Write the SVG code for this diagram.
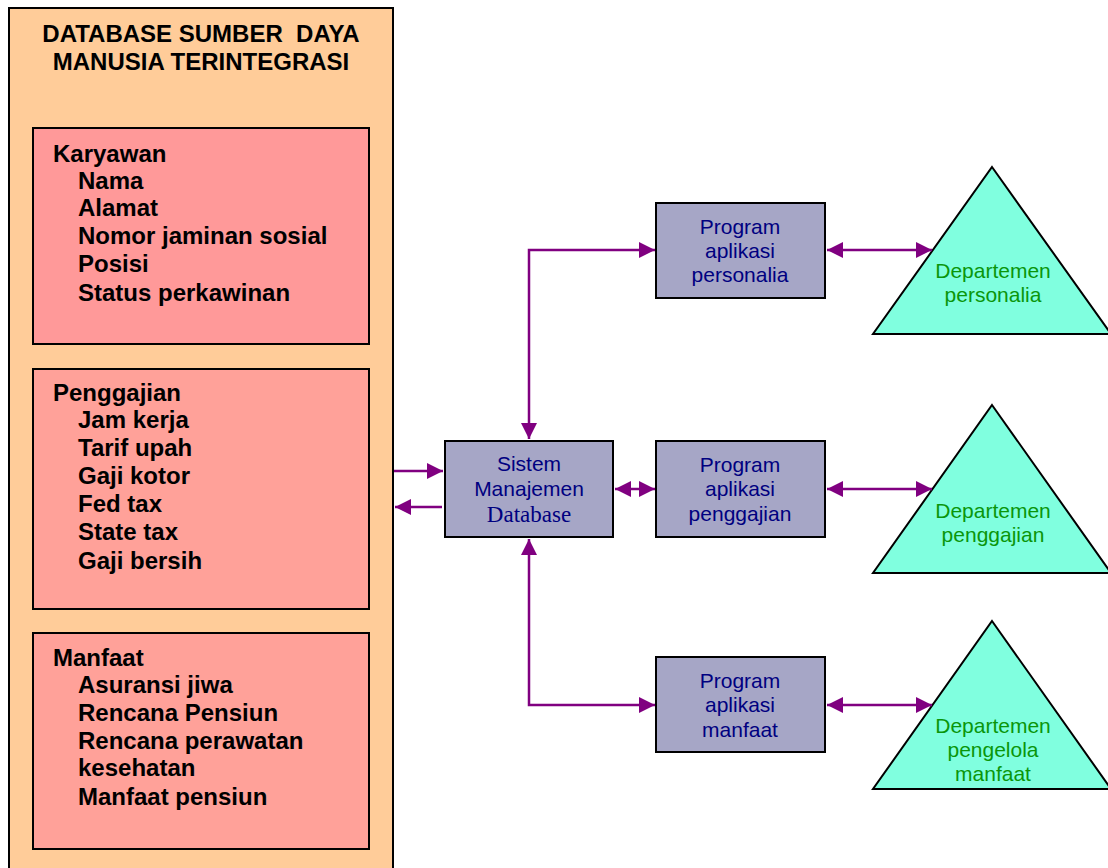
<svg xmlns="http://www.w3.org/2000/svg" width="1108" height="868" viewBox="0 0 1108 868">
  <style>
    .bg { fill: #ffffff; }
    .outer { fill: #FFCC99; stroke: #000; stroke-width: 2; }
    .tbl1 { fill: #FF9999; stroke: #000; stroke-width: 2; }
    .tbl { fill: #FFA199; stroke: #000; stroke-width: 2; }
    .proc { fill: #A6A6C6; stroke: #000; stroke-width: 2; }
    .dept { fill: #80FFDF; stroke: #000; stroke-width: 2; stroke-linejoin: miter; }
    .title { font-family: "Liberation Sans", Arial, sans-serif; font-weight: bold; font-size: 24px; fill: #000; text-anchor: middle; }
    .list { font-family: "Liberation Sans", Arial, sans-serif; font-weight: bold; font-size: 24px; fill: #000; }
    .ptxt { font-family: "Liberation Sans", Arial, sans-serif; font-size: 21px; fill: #000080; text-anchor: middle; }
    .serif { font-family: "Liberation Serif", "Times New Roman", serif; font-size: 23px; }
    .dtxt { font-family: "Liberation Sans", Arial, sans-serif; font-size: 21px; fill: #0A960A; text-anchor: middle; }
    .conn { fill: none; stroke: #800080; stroke-width: 2.5; }
  </style>
  <defs>
    <marker id="arrow" viewBox="0 0 10 10" refX="10" refY="5" markerUnits="userSpaceOnUse" markerWidth="16" markerHeight="16" orient="auto-start-reverse">
      <path d="M0,0 L10,5 L0,10 z" fill="#800080"/>
    </marker>
  </defs>

  <rect class="bg" x="0" y="0" width="1108" height="868"/>

  <!-- integrated HR database with its three tables -->
  <g id="hr-database">
    <rect class="outer" x="9" y="8" width="384" height="870"/>
    <text class="title" x="201" y="42" xml:space="preserve">DATABASE SUMBER  DAYA</text>
    <text class="title" x="201" y="70">MANUSIA TERINTEGRASI</text>
  </g>

  <g id="table-karyawan">
    <rect class="tbl1" x="33" y="128" width="336" height="216"/>
    <text class="list" x="53" y="162">Karyawan</text>
    <text class="list" x="78" y="189">Nama</text>
    <text class="list" x="78" y="216">Alamat</text>
    <text class="list" x="78" y="244">Nomor jaminan sosial</text>
    <text class="list" x="78" y="272">Posisi</text>
    <text class="list" x="78" y="301">Status perkawinan</text>
  </g>

  <g id="table-penggajian">
    <rect class="tbl" x="33" y="369" width="336" height="240"/>
    <text class="list" x="53" y="401">Penggajian</text>
    <text class="list" x="78" y="428">Jam kerja</text>
    <text class="list" x="78" y="456">Tarif upah</text>
    <text class="list" x="78" y="484">Gaji kotor</text>
    <text class="list" x="78" y="512">Fed tax</text>
    <text class="list" x="78" y="540">State tax</text>
    <text class="list" x="78" y="569">Gaji bersih</text>
  </g>

  <g id="table-manfaat">
    <rect class="tbl" x="33" y="633" width="336" height="216"/>
    <text class="list" x="53" y="666">Manfaat</text>
    <text class="list" x="78" y="693">Asuransi jiwa</text>
    <text class="list" x="78" y="721">Rencana Pensiun</text>
    <text class="list" x="78" y="749">Rencana perawatan</text>
    <text class="list" x="78" y="776">kesehatan</text>
    <text class="list" x="78" y="805">Manfaat pensiun</text>
  </g>

  <!-- DBMS -->
  <g id="dbms">
    <rect class="proc" x="445" y="441" width="168" height="96"/>
    <text class="ptxt" x="529" y="471">Sistem</text>
    <text class="ptxt" x="529" y="496">Manajemen</text>
    <text class="ptxt serif" x="529" y="522">Database</text>
  </g>

  <!-- application programs -->
  <g id="prog-personalia">
    <rect class="proc" x="656" y="203" width="169" height="95"/>
    <text class="ptxt" x="740" y="234">Program</text>
    <text class="ptxt" x="740" y="258">aplikasi</text>
    <text class="ptxt" x="740" y="282">personalia</text>
  </g>
  <g id="prog-penggajian">
    <rect class="proc" x="656" y="441" width="169" height="96"/>
    <text class="ptxt" x="740" y="472">Program</text>
    <text class="ptxt" x="740" y="496">aplikasi</text>
    <text class="ptxt" x="740" y="521">penggajian</text>
  </g>
  <g id="prog-manfaat">
    <rect class="proc" x="656" y="657" width="169" height="95"/>
    <text class="ptxt" x="740" y="688">Program</text>
    <text class="ptxt" x="740" y="712">aplikasi</text>
    <text class="ptxt" x="740" y="737">manfaat</text>
  </g>

  <!-- departments -->
  <g id="dept-personalia">
    <polygon class="dept" points="992,167 1111,334 873,334"/>
    <text class="dtxt" x="993" y="278">Departemen</text>
    <text class="dtxt" x="993" y="302">personalia</text>
  </g>
  <g id="dept-penggajian">
    <polygon class="dept" points="992,405 1111,573 873,573"/>
    <text class="dtxt" x="993" y="518">Departemen</text>
    <text class="dtxt" x="993" y="542">penggajian</text>
  </g>
  <g id="dept-manfaat">
    <polygon class="dept" points="992,621 1111,789 873,789"/>
    <text class="dtxt" x="993" y="733">Departemen</text>
    <text class="dtxt" x="993" y="757">pengelola</text>
    <text class="dtxt" x="993" y="781">manfaat</text>
  </g>

  <!-- connectors -->
  <g id="connectors">
    <path class="conn" d="M394,471 H443" marker-end="url(#arrow)"/>
    <path class="conn" d="M442,507 H395" marker-end="url(#arrow)"/>
    <path class="conn" d="M529,439 V250 H655" marker-start="url(#arrow)" marker-end="url(#arrow)"/>
    <path class="conn" d="M529,539 V705 H655" marker-start="url(#arrow)" marker-end="url(#arrow)"/>
    <path class="conn" d="M615,489 H655" marker-start="url(#arrow)" marker-end="url(#arrow)"/>
    <path class="conn" d="M827,250 H932" marker-start="url(#arrow)" marker-end="url(#arrow)"/>
    <path class="conn" d="M827,489 H932" marker-start="url(#arrow)" marker-end="url(#arrow)"/>
    <path class="conn" d="M827,705 H932" marker-start="url(#arrow)" marker-end="url(#arrow)"/>
  </g>
</svg>
